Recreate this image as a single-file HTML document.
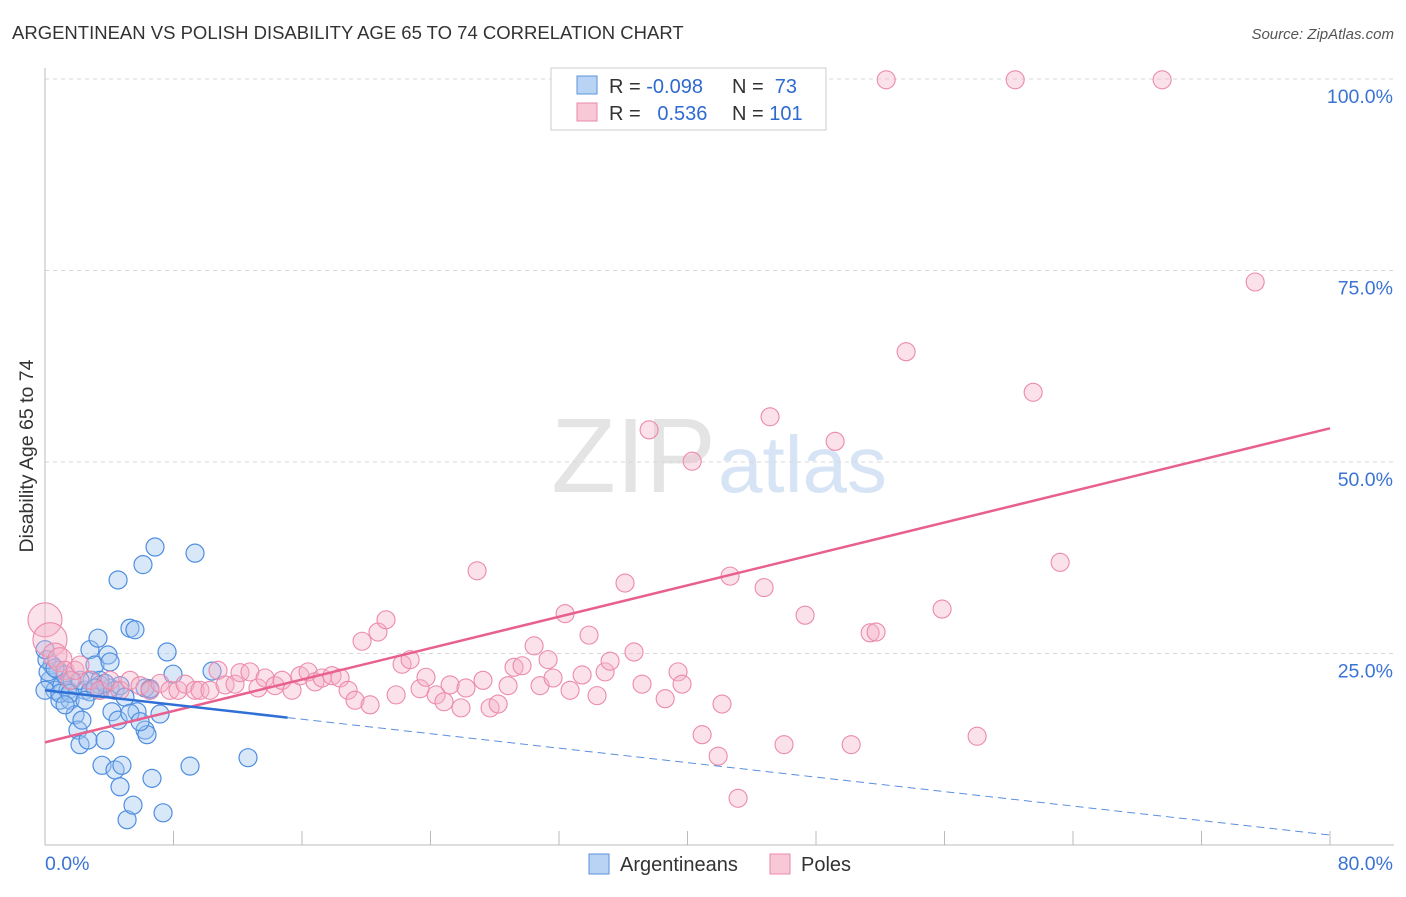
<!DOCTYPE html>
<html><head><meta charset="utf-8"><style>
body{margin:0;background:#fff;font-family:"Liberation Sans",sans-serif;}
svg text{font-family:"Liberation Sans",sans-serif;}
</style></head><body>
<svg id="chart" width="1406" height="892" viewBox="0 0 1406 892">
<text x="12" y="39" font-size="18.5" fill="#333">ARGENTINEAN VS POLISH DISABILITY AGE 65 TO 74 CORRELATION CHART</text>
<text x="1394" y="39" font-size="15" fill="#555" font-style="italic" text-anchor="end">Source: ZipAtlas.com</text>
<text x="716" y="492" font-size="106" fill="#e4e4e4" text-anchor="end" font-family="Liberation Serif">ZIP</text>
<text x="718" y="492" font-size="80" fill="#d6e4f5">atlas</text>
<g id="grid"></g>
<g id="axes"></g>
<g id="blue"></g>
<g id="pink"></g>
<g id="trends"></g>
<text transform="translate(33,456) rotate(-90)" font-size="19.5" fill="#333" text-anchor="middle">Disability Age 65 to 74</text>
<g>
<rect x="551" y="68" width="275" height="62" fill="#fff" stroke="#ccc"/>
<rect x="577" y="76" width="20" height="18" fill="#b8d3f3" stroke="#5b93dc"/>
<rect x="577" y="103" width="20" height="18" fill="#f8c8d6" stroke="#e88aa8"/>
<text x="609" y="93" font-size="20" fill="#333">R = <tspan fill="#2f6ad0">-0.098</tspan></text>
<text x="732" y="93" font-size="20" fill="#333">N = <tspan fill="#2f6ad0">&#160;73</tspan></text>
<text x="609" y="120" font-size="20" fill="#333">R = <tspan fill="#2f6ad0">&#160;&#160;0.536</tspan></text>
<text x="732" y="120" font-size="20" fill="#333">N = <tspan fill="#2f6ad0">101</tspan></text>
</g>
<g>
<rect x="589" y="854" width="20" height="20" fill="#b8d3f3" stroke="#5b93dc"/>
<text x="620" y="871" font-size="20" fill="#333">Argentineans</text>
<rect x="770" y="854" width="20" height="20" fill="#f8c8d6" stroke="#e88aa8"/>
<text x="801" y="871" font-size="20" fill="#333">Poles</text>
</g>
</svg>
<script>
const blueX=[0.31,0.44,0.62,0.81,0.93,1.06,1.25,1.43,1.56,1.68,1.87,2.05,2.18,2.30,2.49,2.68,2.80,2.93,3.11,3.30,3.42,3.55,3.74,3.92,4.05,4.17,4.36,4.55,4.67,4.79,5.11,5.29,5.48,5.60,5.73,6.23,6.35,6.54,6.66,6.85,7.16,7.35,7.60,7.97,9.03,9.34,10.40,12.64,4.55,6.10,0,0.19,0.12,0,4.05,3.42,0.93,1.56,2.18,2.80,3.42,4.36,4.67,4.98,6.23,6.54,3.74,3.11,0.62,1.25,2.49,5.29,5.92];
const blueY=[21.5,23.5,20.2,22.8,18.9,20.9,22.2,20.2,18.9,21.5,17.0,15.0,13.1,16.3,20.2,13.7,25.5,21.5,23.5,27.0,20.2,10.4,13.7,24.8,23.9,17.4,9.8,16.3,7.6,10.4,3.3,28.3,5.2,28.1,17.4,15.0,14.4,20.2,8.7,38.9,17.1,4.2,25.2,22.3,10.3,38.1,22.7,11.4,34.6,36.6,20.2,22.6,24.2,25.5,20.5,20.9,19.8,19.8,21.5,20.0,21.5,20.2,20.8,19.3,20.5,20.4,21.1,20.5,23.1,18.3,18.9,17.2,16.1];
const pinkX=[0,0.31,0.62,0.93,1.25,1.56,1.87,2.18,2.80,3.42,4.05,4.67,5.29,5.92,6.54,7.16,7.78,8.28,8.72,9.34,9.65,10.27,10.77,11.21,11.83,12.14,12.76,13.26,13.70,14.32,14.76,15.38,15.88,16.38,16.81,17.25,17.87,18.37,18.87,19.30,19.74,20.24,20.73,21.23,21.86,22.23,22.73,23.35,23.72,24.35,24.84,25.22,25.90,26.21,26.90,27.27,27.71,28.21,28.83,29.20,29.70,30.45,30.82,31.32,31.63,32.38,32.69,33.44,33.87,34.37,34.87,35.18,36.11,36.67,37.17,37.61,38.61,39.41,39.66,40.29,40.91,41.91,42.15,42.65,43.15,44.77,45.14,46.01,47.32,49.19,50.19,51.37,51.74,52.37,53.61,55.85,58.03,60.40,61.52,63.20,69.55,75.34];
const pinkY=[29.4,26.8,24.8,24.2,22.8,21.5,22.8,23.5,21.5,20.2,21.5,20.2,21.5,20.8,20.2,21.1,20.2,20.2,21.0,20.2,20.2,20.2,22.8,20.9,21.0,22.5,22.6,20.5,21.8,20.8,21.5,20.2,22.1,22.6,21.3,21.8,22.1,21.8,20.2,18.9,26.6,18.3,27.8,29.4,19.6,23.6,24.2,20.4,21.9,19.6,18.7,20.9,17.9,20.5,35.8,21.5,17.9,18.4,20.8,23.2,23.4,26.0,20.8,24.2,21.8,30.2,20.2,22.2,27.4,19.5,22.6,24.0,34.2,25.2,21.0,54.2,19.1,22.6,21.0,50.1,14.4,11.6,18.4,35.1,6.1,33.6,55.9,13.1,30.0,52.7,13.1,27.7,27.8,99.9,64.4,30.8,14.2,99.9,59.1,36.9,99.9,73.5];
const yTicks=[25,50,75,100];
const yTickLabels=["25.0%","50.0%","75.0%","100.0%"];
const xTicks=[0,8,16,24,32,40,48,56,64,72,80];
const pinkTrend=[13.4,54.4];
const blueTrend=[20.2,1.3];
const blueSolidEnd=15.1;

const NS="http://www.w3.org/2000/svg";
const sx=v=>45+v*(1285/80);
const sy=v=>845-v*(766/100);
function mk(tag,attrs,parent){const e=document.createElementNS(NS,tag);for(const k in attrs)e.setAttribute(k,attrs[k]);parent.appendChild(e);return e;}
const grid=document.getElementById('grid'),axes=document.getElementById('axes');
yTicks.forEach((t,i)=>{
 const l=mk('line',{x1:45,x2:1394,y1:sy(t),y2:sy(t),stroke:'#d8d8d8','stroke-dasharray':'4,4'},grid);
 
 
 const tx=mk('text',{x:1393,y:sy(t)+24,'font-size':19.5,fill:'#3b73d4','text-anchor':'end'},grid);
 tx.textContent=yTickLabels[i];
 
 
});
const ax=mk('line',{x1:45,x2:45,y1:68,y2:845,stroke:'#bbb'},axes);


const bx=mk('line',{x1:45,x2:1394,y1:845,y2:845,stroke:'#bbb'},axes);


xTicks.forEach(t=>{const l=mk('line',{x1:sx(t),x2:sx(t),y1:831,y2:845,stroke:'#bbb'},axes);
 
 });
const x0=mk('text',{x:45,y:870,'font-size':19.5,fill:'#3b73d4'},axes);x0.textContent=xTicks[0].toFixed(1)+'%';


const x1=mk('text',{x:1393,y:870,'font-size':19.5,fill:'#3b73d4','text-anchor':'end'},axes);x1.textContent=xTicks[xTicks.length-1].toFixed(1)+'%';



const bg=document.getElementById('blue');
blueX.forEach((v,i)=>{const c=mk('circle',{cx:sx(v),cy:sy(blueY[i]),r:9,fill:'rgba(160,198,240,0.4)',stroke:'#4f8ee0','stroke-width':1.2},bg);
 
 });
const pg=document.getElementById('pink');
pinkX.forEach((v,i)=>{const r=i<2?17:(i<4?12:9);const c=mk('circle',{cx:sx(v),cy:sy(pinkY[i]),r:r,fill:'rgba(245,175,200,0.38)',stroke:'#ec8aaa','stroke-width':1.1},pg);
 
 });
const tg=document.getElementById('trends');
const bAt=x=>blueTrend[0]+(blueTrend[1]-blueTrend[0])*x/80;
const l1=mk('line',{x1:sx(0),y1:sy(pinkTrend[0]),x2:sx(80),y2:sy(pinkTrend[1]),stroke:'#e8608f','stroke-width':2.5},tg);


const l2=mk('line',{x1:sx(0),y1:sy(bAt(0)),x2:sx(blueSolidEnd),y2:sy(bAt(blueSolidEnd)),stroke:'#2f6fd6','stroke-width':2.5},tg);


const l3=mk('line',{x1:sx(blueSolidEnd),y1:sy(bAt(blueSolidEnd)),x2:sx(80),y2:sy(bAt(80)),stroke:'#5b8fdc','stroke-width':1,'stroke-dasharray':'8,5'},tg);


</script>
</body></html>
